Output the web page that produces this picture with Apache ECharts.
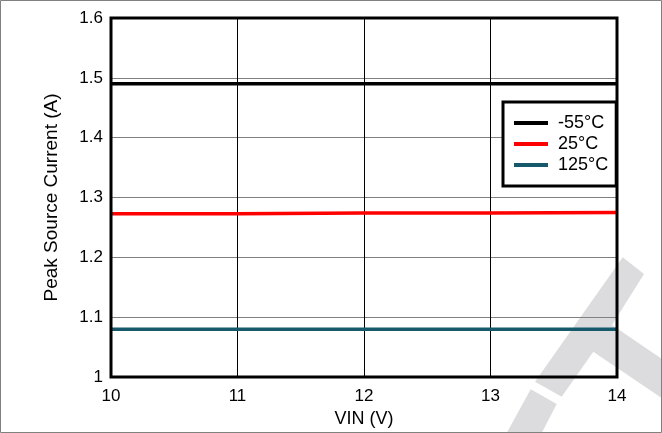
<!DOCTYPE html>
<html><head><meta charset="utf-8">
<script src="https://cdn.jsdelivr.net/npm/echarts@6/dist/echarts.min.js"></script>
<style>html,body{margin:0;padding:0;background:#fff}#c{width:662px;height:433px}</style>
</head><body><div id="c"></div>
<script>
const vin = [10, 11, 12, 13, 14];
const seriesNames = ['-55°C', '25°C', '125°C'];
const currentM55 = [1.49, 1.49, 1.49, 1.49, 1.49];
const current25 = [1.273, 1.273, 1.274, 1.274, 1.275];
const current125 = [1.08, 1.08, 1.08, 1.08, 1.08];
const colors = ['#000000', '#ff0000', '#16596b'];
const values = [currentM55, current25, current125];
const font = '"Liberation Sans", Arial, sans-serif';

const chart = echarts.init(document.getElementById('c'), null, {renderer: 'canvas'});
chart.setOption({
  animation: false,
  backgroundColor: '#fff',
  textStyle: {fontFamily: font},
  grid: {left: 111, right: 45, top: 18, bottom: 56, show: true, borderColor: '#000', borderWidth: 3, z: 3},
  xAxis: {
    type: 'value', min: 10, max: 14, interval: 1,
    name: 'VIN (V)', nameLocation: 'middle', nameGap: 30,
    nameTextStyle: {fontSize: 18, color: '#000', fontFamily: font},
    axisLine: {show: false}, axisTick: {show: false},
    axisLabel: {fontSize: 17, color: '#000', margin: 11, fontFamily: font},
    splitLine: {show: true, lineStyle: {color: '#000', width: 1}}
  },
  yAxis: {
    type: 'value', min: 1, max: 1.6, interval: 0.1,
    name: 'Peak Source Current (A)', nameLocation: 'middle', nameGap: 50,
    nameTextStyle: {fontSize: 19, color: '#000', fontFamily: font},
    axisLine: {show: false}, axisTick: {show: false},
    axisLabel: {fontSize: 17, color: '#000', margin: 8, fontFamily: font,
      formatter: v => (Math.round(v * 10) / 10).toString()},
    splitLine: {show: true, lineStyle: {color: '#808080', width: 1}}
  },
  legend: {
    orient: 'vertical', left: 503, top: 102,
    data: seriesNames,
    icon: 'rect', itemWidth: 34, itemHeight: 4, itemGap: 3,
    padding: [12, 8, 12, 11],
    backgroundColor: '#fff', borderColor: '#000', borderWidth: 3,
    textStyle: {fontSize: 18, color: '#000', fontFamily: font, padding: [0, 0, 0, 5]}
  },
  graphic: [
    {type: 'polygon', z: -10, silent: true,
     shape: {points: [[622.7,257.3],[644,274],[612,325],[662,359],[662,398.3],[593.3,351.7],[561.7,396.7],[535,381.7]]},
     style: {fill: '#dcdcde'}},
    {type: 'polygon', z: -10, silent: true,
     shape: {points: [[530.7,389.3],[556.7,404],[541.7,433],[506.7,433]]},
     style: {fill: '#dcdcde'}},
    {type: 'rect', z: 100, silent: true,
     shape: {x: 0.5, y: 0.5, width: 661, height: 432},
     style: {fill: 'none', stroke: '#808080', lineWidth: 1}}
  ],
  series: values.map((vals, i) => ({
    name: seriesNames[i], type: 'line',
    data: vin.map((x, j) => [x, vals[j]]),
    showSymbol: false, symbol: 'none',
    lineStyle: {color: colors[i], width: 3.5},
    itemStyle: {color: colors[i]},
    z: 2
  }))
});
</script></body></html>
